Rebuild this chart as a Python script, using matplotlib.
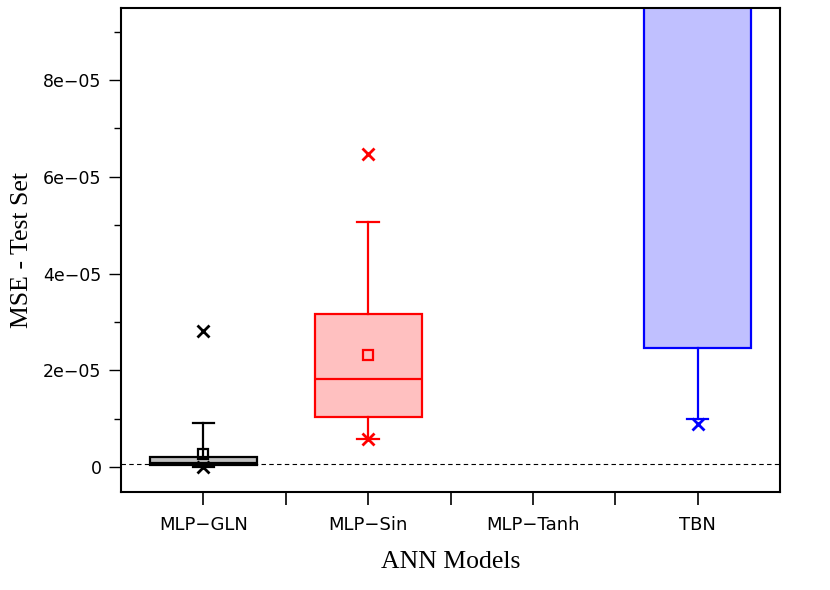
import numpy as np
import matplotlib
matplotlib.use("Agg")
from matplotlib import pyplot as plt
from matplotlib.ticker import FixedLocator

# box statistics (MSE values)
models = ["MLP\u2212GLN", "MLP\u2212Sin", "MLP\u2212Tanh", "TBN"]
q1 = [0.04e-5, 1.03e-5, 30e-5, 2.47e-5]
med = [0.08e-5, 1.82e-5, 40e-5, 15e-5]
q3 = [0.20e-5, 3.16e-5, 60e-5, 40e-5]
whislo = [0.0, 0.57e-5, 20e-5, 1.0e-5]
whishi = [0.92e-5, 5.07e-5, 80e-5, 70e-5]
means = [0.26e-5, 2.31e-5, 45e-5, 20e-5]
mins = [0.0, 0.58e-5, 18e-5, 0.89e-5]
maxs = [2.81e-5, 6.48e-5, 90e-5, 90e-5]
ref_line = 0.055e-5

edge_colors = ["black", "red", "green", "blue"]
fill_colors = ["#c0c0c0", "#ffc0c0", "#c0ffc0", "#c0c0ff"]

ytick_vals = [0, 2e-5, 4e-5, 6e-5, 8e-5]
ytick_labels = ["0", "2e\u221205", "4e\u221205", "6e\u221205", "8e\u221205"]
yminor_vals = [1e-5, 3e-5, 5e-5, 7e-5, 9e-5]

fig = plt.figure(figsize=(8.3, 5.9), dpi=100)
ax = fig.add_axes([0.1458, 0.1661, 0.794, 0.8203])

positions = np.arange(1, len(models) + 1)
stats = []
for i in range(len(models)):
    stats.append({"q1": q1[i], "med": med[i], "q3": q3[i],
                  "whislo": whislo[i], "whishi": whishi[i],
                  "mean": means[i], "fliers": []})

for i, s in enumerate(stats):
    c = edge_colors[i]
    ax.bxp([s], positions=[positions[i]], widths=0.65, capwidths=[0.13],
           patch_artist=True, showmeans=True, showfliers=False,
           boxprops=dict(facecolor=fill_colors[i], edgecolor=c, linewidth=1.6),
           medianprops=dict(color=c, linewidth=1.6),
           whiskerprops=dict(color=c, linewidth=1.6),
           capprops=dict(color=c, linewidth=1.6),
           meanprops=dict(marker="s", markerfacecolor="none", markeredgecolor=c,
                          markersize=7, markeredgewidth=1.6))
    ax.plot([positions[i]], [mins[i]], marker="x", color=c, markersize=8,
            markeredgewidth=2, linestyle="none")
    ax.plot([positions[i]], [maxs[i]], marker="x", color=c, markersize=8,
            markeredgewidth=2, linestyle="none")

ax.axhline(ref_line, color="black", linewidth=0.8, linestyle=(0, (4, 3)), zorder=0)

ax.set_xlim(0.5, 4.5)
ax.set_ylim(-0.517e-5, 9.49e-5)

ax.set_xticks(positions)
ax.set_xticklabels(models, fontsize=13)
ax.xaxis.set_minor_locator(FixedLocator([1.5, 2.5, 3.5]))
ax.tick_params(axis="x", which="both", direction="out", length=9.5, width=1.2, pad=8)

ax.set_yticks(ytick_vals)
ax.set_yticklabels(ytick_labels, fontsize=12.5)
ax.yaxis.set_minor_locator(FixedLocator(yminor_vals))
ax.tick_params(axis="y", which="major", direction="out", length=9, width=1.0, pad=5)
ax.tick_params(axis="y", which="minor", direction="out", length=5, width=1.0)

for sp in ax.spines.values():
    sp.set_linewidth(1.5)

ax.set_xlabel("ANN Models", family="Liberation Serif", fontsize=18.5, labelpad=12)
ax.set_ylabel("MSE - Test Set", family="Liberation Serif", fontsize=18.5, labelpad=7)

fig.savefig("out.png", dpi=100)
